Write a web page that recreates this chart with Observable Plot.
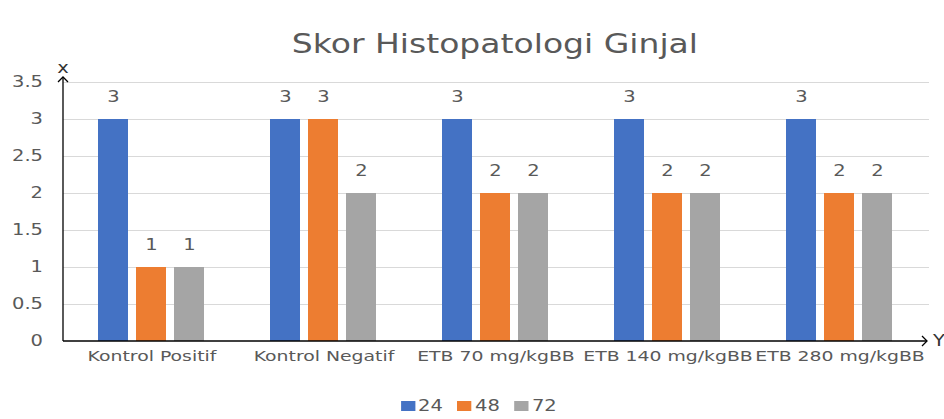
<!DOCTYPE html>
<html><head><meta charset="utf-8">
<script src="https://cdn.jsdelivr.net/npm/d3@7"></script>
<script src="https://cdn.jsdelivr.net/npm/@observablehq/plot@0.6"></script>
<style>
html,body{margin:0;padding:0;background:#fff;overflow:hidden;}
body{font-family:"DejaVu Sans",sans-serif;width:944px;height:419px;}
#title{box-sizing:border-box;height:60px;padding-top:29px;line-height:30px;margin-left:63px;width:864px;text-align:center;font-size:26px;color:#595959;}
#title span{display:inline-block;transform:scaleX(1.27);transform-origin:center;}
#chart{height:320px;}
#legend{box-sizing:border-box;height:39px;padding-top:16px;text-align:center;padding-left:13px;}
#legend .wrap{display:inline-flex;transform:scaleX(1.3);transform-origin:center;align-items:center;font-size:15px;color:#595959;line-height:16px;}
#legend .item{display:inline-flex;align-items:center;margin:0 5.6px;}
#legend .sw{width:11px;height:10px;margin-right:2.5px;}
</style></head><body>
<div id="title"><span>Skor Histopatologi Ginjal</span></div>
<div id="chart"></div>
<div id="legend"></div>
<script>
const categories = ["Kontrol Positif", "Kontrol Negatif", "ETB 70 mg/kgBB", "ETB 140 mg/kgBB", "ETB 280 mg/kgBB"];
const seriesNames = ["24", "48", "72"];
const values24 = [3, 3, 3, 3, 3];
const values48 = [1, 3, 2, 2, 2];
const values72 = [1, 2, 2, 2, 2];
const yTicks = [0, 0.5, 1, 1.5, 2, 2.5, 3, 3.5];
const colors = ["#4472C4", "#ED7D31", "#A5A5A5"];

const seriesValues = [values24, values48, values72];
const data = categories.flatMap((c, i) => seriesValues.map((v, j) => ({category: c, series: seriesNames[j], value: v[i]})));

const W = 944, H = 320, ML = 63, MR = 17, MT = 22, MB = 39;
const SX = 1.3;

const plot = Plot.plot({
  width: W, height: H,
  marginLeft: ML, marginRight: MR, marginTop: MT, marginBottom: MB,
  style: {fontFamily: "DejaVu Sans", fontSize: "14.5px", color: "#595959", background: "#fff", overflow: "visible"},
  fx: {domain: categories, paddingInner: 0.38, paddingOuter: 0.19, label: null, tickSize: 0, tickPadding: 9},
  x: {domain: seriesNames, paddingInner: 0.2, paddingOuter: 0, axis: null},
  y: {domain: [0, 3.5], axis: null},
  color: {domain: seriesNames, range: colors},
  marks: [
    Plot.barY(data, {fx: "category", x: "series", y: "value", fill: "series"}),
    Plot.text(data, {fx: "category", x: "series", y: "value", text: d => String(d.value), dy: -22, fill: "#595959", fontSize: 15})
  ]
});

const y = plot.scale("y");
const svg = d3.select(plot);
const y0 = y.apply(0), yTop = y.apply(3.5) - 5;
const xRight = W - MR;

// gridlines (behind bars) and y tick labels, positioned with Plot's y scale
const grid = svg.insert("g", ":first-child").attr("stroke", "#D9D9D9").attr("stroke-width", 1);
yTicks.slice(1).forEach(v => {
  const yy = Math.round(y.apply(v)) + 0.5;
  grid.append("line").attr("x1", ML).attr("x2", xRight + 2).attr("y1", yy).attr("y2", yy);
});
const yl = svg.append("g").attr("font-size", 15).attr("fill", "#595959").attr("text-anchor", "end");
yTicks.forEach(v => {
  yl.append("text").attr("x", ML - 20).attr("y", y.apply(v)).attr("dy", "0.36em").text(String(v));
});

// axis lines with arrows
const g = svg.append("g").attr("stroke", "#000").attr("fill", "none").attr("stroke-width", 1.3);
g.append("line").attr("x1", ML).attr("x2", ML).attr("y1", y0).attr("y2", yTop);
g.append("polyline").attr("points", `${ML - 5},${yTop + 5} ${ML},${yTop} ${ML + 5},${yTop + 5}`);
g.append("line").attr("x1", ML).attr("x2", xRight).attr("y1", y0).attr("y2", y0);
g.append("polyline").attr("points", `${xRight - 5},${y0 - 5} ${xRight},${y0} ${xRight - 5},${y0 + 5}`);
svg.append("text").attr("x", ML).attr("y", yTop - 4).attr("text-anchor", "middle").attr("font-size", 15).attr("fill", "#333").text("x");
svg.append("text").attr("x", xRight + 6).attr("y", y0 + 5).attr("text-anchor", "start").attr("font-size", 15).attr("fill", "#333").text("Y");

// horizontal stretch of the text (reference typeface is wide)
svg.selectAll("text").each(function() {
  const t = d3.select(this);
  const x = +(t.attr("x") || 0);
  const tr = t.attr("transform") || "";
  t.attr("transform", `${tr} translate(${x},0) scale(${SX},1) translate(${-x},0)`);
});

document.getElementById("chart").appendChild(plot);

// legend
const wrap = d3.select("#legend").append("div").attr("class", "wrap");
seriesNames.forEach((s, i) => {
  const it = wrap.append("div").attr("class", "item");
  it.append("div").attr("class", "sw").style("background", colors[i]);
  it.append("span").text(s);
});
</script>
</body></html>
